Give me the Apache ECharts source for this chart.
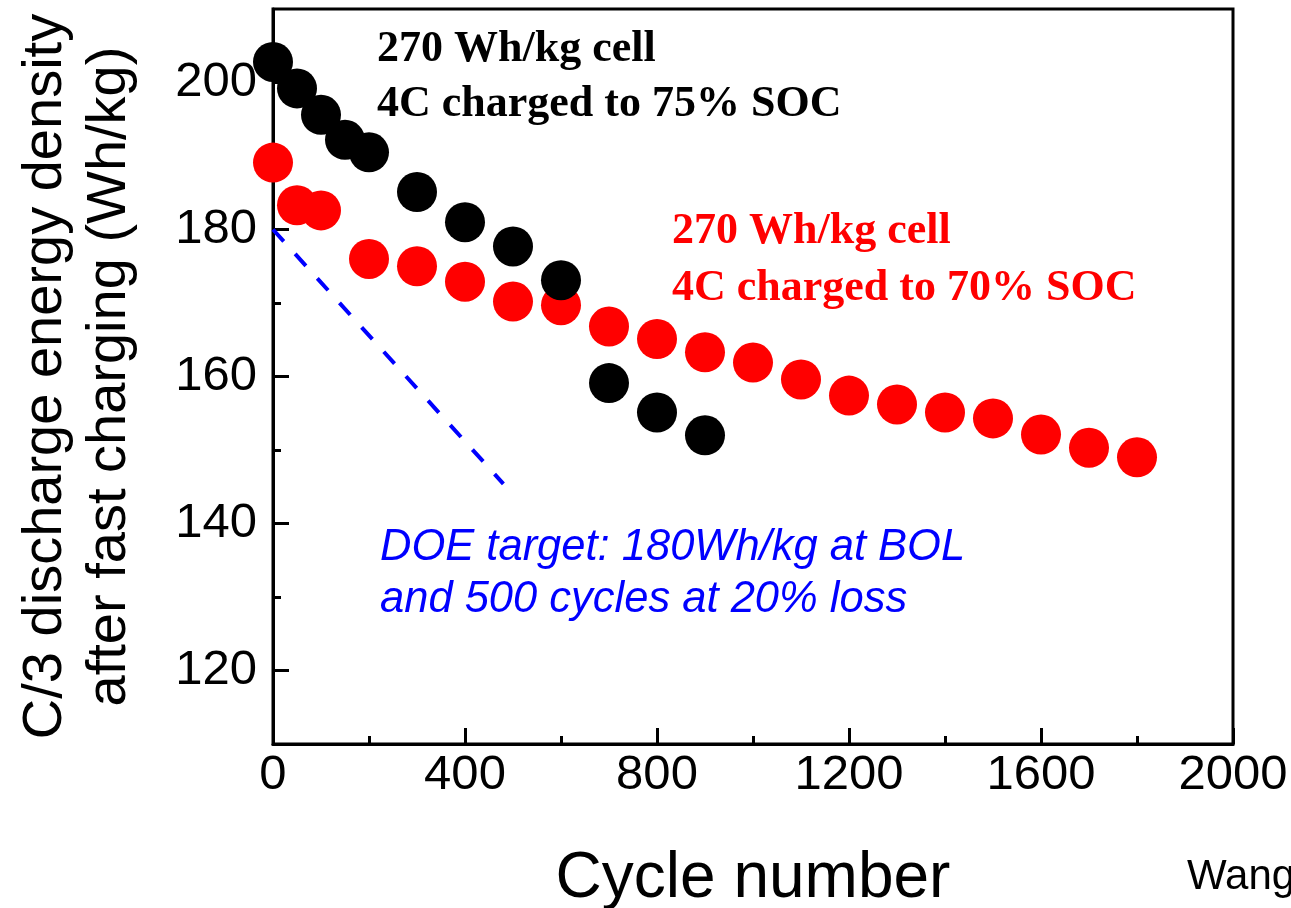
<!DOCTYPE html>
<html>
<head>
<meta charset="utf-8">
<script src="https://cdn.jsdelivr.net/npm/echarts@6/dist/echarts.min.js"></script>
<style>
html,body{margin:0;padding:0;background:#fff;}
#chart{width:1291px;height:908px;}
</style>
</head>
<body>
<div id="chart"></div>
<script>
// ---- data ----
const blackCycles = [0, 50, 100, 150, 200, 300, 400, 500, 600, 700, 800, 900];
const blackEnergy = [202.8, 199.2, 195.6, 192.2, 190.5, 185.1, 181.0, 177.7, 173.1, 159.1, 155.1, 152.0];
const redCycles = [0, 50, 100, 200, 300, 400, 500, 600, 700, 800, 900, 1000, 1100, 1200, 1300, 1400, 1500, 1600, 1700, 1800];
const redEnergy = [189.1, 183.3, 182.6, 176.0, 175.0, 172.9, 170.2, 169.7, 166.8, 165.1, 163.3, 161.9, 159.6, 157.4, 156.2, 155.1, 154.3, 152.1, 150.3, 149.0];
const doeCycles = [0, 480];
const doeEnergy = [180, 145.4];
const yMajorTicks = [120, 140, 160, 180, 200];
const yMinorTicks = [130, 150, 170, 190];
const xTickLabels = [0, 400, 800, 1200, 1600, 2000];

const pairs = (xs, ys) => xs.map((x, i) => [x, ys[i]]);

const SANS = 'Liberation Sans, Arial, sans-serif';
const SERIF = 'Liberation Serif, Times New Roman, serif';

const chart = echarts.init(document.getElementById('chart'), null, {renderer: 'canvas'});
const option = {
  animation: false,
  backgroundColor: '#ffffff',
  grid: {left: 273, top: 9, width: 960, height: 735, containLabel: false, outerBoundsMode: 'none',
         show: true, borderColor: '#000', borderWidth: 3, backgroundColor: 'transparent'},
  xAxis: {
    type: 'value', min: 0, max: 2000, interval: 400,
    axisLine: {show: true, lineStyle: {color: '#000', width: 3}},
    axisTick: {show: true, inside: true, length: 16, lineStyle: {color: '#000', width: 3}},
    minorTick: {show: true, splitNumber: 2, length: 8, lineStyle: {color: '#000', width: 3}},
    splitLine: {show: false},
    axisLabel: {color: '#000', fontSize: 49, fontFamily: SANS, margin: 7,
      customValues: xTickLabels, formatter: v => String(v)},
    name: 'Cycle number', nameLocation: 'middle', nameGap: 103,
    nameTextStyle: {color: '#000', fontSize: 64, fontFamily: SANS}
  },
  yAxis: [{
    type: 'value', min: 110, max: 210,
    axisLine: {show: true, lineStyle: {color: '#000', width: 3}},
    axisTick: {show: true, inside: true, length: 16, lineStyle: {color: '#000', width: 3}, customValues: yMajorTicks},
    splitLine: {show: false},
    axisLabel: {color: '#000', fontSize: 49, fontFamily: SANS, margin: 16, customValues: yMajorTicks, formatter: v => String(v)},
    name: 'C/3 discharge energy density\nafter fast charging (Wh/kg)',
    nameLocation: 'middle', nameGap: 131, nameRotate: 90,
    nameTextStyle: {color: '#000', fontSize: 56, fontFamily: SANS, lineHeight: 64, align: 'center'}
  }, {
    type: 'value', min: 110, max: 210, position: 'left',
    axisLine: {show: false},
    axisTick: {show: true, inside: true, length: 8, lineStyle: {color: '#000', width: 3}, customValues: yMinorTicks},
    axisLabel: {show: false},
    splitLine: {show: false}
  }],
  series: [
    {type: 'line', data: pairs(doeCycles, doeEnergy), symbol: 'none', silent: true,
     lineStyle: {color: '#0000ff', width: 4, type: [16, 17]}, z: 1},
    {type: 'scatter', data: pairs(redCycles, redEnergy), symbol: 'circle', symbolSize: 40,
     itemStyle: {color: '#ff0000', opacity: 1}, z: 2},
    {type: 'scatter', data: pairs(blackCycles, blackEnergy), symbol: 'circle', symbolSize: 40,
     itemStyle: {color: '#000000', opacity: 1}, z: 3}
  ],
  graphic: [
    {type: 'text', x: 377, y: 50, style: {text: '270 Wh/kg cell', fill: '#000', font: 'bold 44px ' + SERIF, verticalAlign: 'middle'}},
    {type: 'text', x: 377, y: 105, style: {text: '4C charged to 75% SOC', fill: '#000', font: 'bold 44px ' + SERIF, verticalAlign: 'middle'}},
    {type: 'text', x: 672, y: 232, style: {text: '270 Wh/kg cell', fill: '#ff0000', font: 'bold 44px ' + SERIF, verticalAlign: 'middle'}},
    {type: 'text', x: 672, y: 289, style: {text: '4C charged to 70% SOC', fill: '#ff0000', font: 'bold 44px ' + SERIF, verticalAlign: 'middle'}},
    {type: 'text', x: 380, y: 548, style: {text: 'DOE target: 180Wh/kg at BOL', fill: '#0000ff', font: 'italic 43.5px ' + SANS, verticalAlign: 'middle'}},
    {type: 'text', x: 380, y: 600, style: {text: 'and 500 cycles at 20% loss', fill: '#0000ff', font: 'italic 43.5px ' + SANS, verticalAlign: 'middle'}},
    {type: 'text', x: 1187, y: 877, style: {text: 'Wang', fill: '#000', font: '42px ' + SANS, verticalAlign: 'middle'}}
  ]
};
chart.setOption(option);
</script>
</body>
</html>
